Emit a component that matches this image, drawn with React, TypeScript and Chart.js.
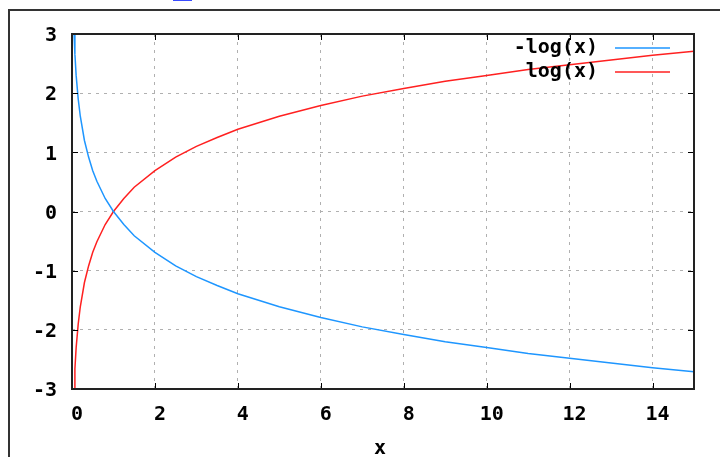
import React, { useEffect, useRef } from "react";
import { Chart, registerables } from "chart.js";

Chart.register(...registerables);

// Data
const xValues = [0.05, 0.07, 0.1, 0.15, 0.2, 0.3, 0.4, 0.5, 0.6, 0.8, 1, 1.25, 1.5, 2, 2.5, 3, 3.5, 4, 5, 6, 7, 8, 9, 10, 11, 12, 13, 14, 15];
const logValues = [-3.0, -2.66, -2.3, -1.9, -1.61, -1.2, -0.92, -0.69, -0.51, -0.22, 0, 0.22, 0.41, 0.69, 0.92, 1.1, 1.25, 1.39, 1.61, 1.79, 1.95, 2.08, 2.2, 2.3, 2.4, 2.48, 2.56, 2.64, 2.71];
const negLogValues = [3.0, 2.66, 2.3, 1.9, 1.61, 1.2, 0.92, 0.69, 0.51, 0.22, 0, -0.22, -0.41, -0.69, -0.92, -1.1, -1.25, -1.39, -1.61, -1.79, -1.95, -2.08, -2.2, -2.3, -2.4, -2.48, -2.56, -2.64, -2.71];
const seriesNames = ["-log(x)", "log(x)"];
const seriesColors = ["#1e96ff", "#ff2020"];
const xTicks = [0, 2, 4, 6, 8, 10, 12, 14];
const yTicks = [-3, -2, -1, 0, 1, 2, 3];
const xTitle = "x";

const FONT = '"DejaVu Sans Mono", monospace';

const framePlugin = {
  id: "gnuFrame",
  afterDraw(chart: any) {
    const { ctx } = chart;
    const { left, top, right, bottom } = chart.chartArea;
    const xs = chart.scales.x;
    const ys = chart.scales.y;
    ctx.save();
    // inward tick marks
    ctx.strokeStyle = "#000";
    ctx.lineWidth = 1;
    ctx.beginPath();
    for (const v of xTicks) {
      const px = Math.round(xs.getPixelForValue(v)) + 0.5;
      ctx.moveTo(px, bottom);
      ctx.lineTo(px, bottom - 6);
      ctx.moveTo(px, top);
      ctx.lineTo(px, top + 6);
    }
    for (const v of yTicks) {
      const py = Math.round(ys.getPixelForValue(v)) + 0.5;
      ctx.moveTo(left, py);
      ctx.lineTo(left + 6, py);
      ctx.moveTo(right, py);
      ctx.lineTo(right - 6, py);
    }
    ctx.stroke();
    // plot border
    ctx.strokeStyle = "#222";
    ctx.lineWidth = 2;
    ctx.strokeRect(left, top, right - left, bottom - top);
    // legend
    ctx.font = `bold 20px ${FONT}`;
    ctx.textAlign = "right";
    ctx.textBaseline = "middle";
    const lx = right - 96;
    seriesNames.forEach((name, i) => {
      const ly = top + 14 + i * 24;
      ctx.fillStyle = "#000";
      ctx.fillText(name, lx, ly);
      ctx.strokeStyle = seriesColors[i];
      ctx.lineWidth = 1.5;
      ctx.beginPath();
      ctx.moveTo(right - 79, ly);
      ctx.lineTo(right - 24, ly);
      ctx.stroke();
    });
    // x title
    ctx.textAlign = "center";
    ctx.fillStyle = "#000";
    ctx.fillText(xTitle, 380, 449);
    // outer frame
    ctx.strokeStyle = "#333";
    ctx.lineWidth = 2;
    ctx.beginPath();
    ctx.moveTo(9, 457);
    ctx.lineTo(9, 10);
    ctx.lineTo(720, 10);
    ctx.stroke();
    ctx.fillStyle = "#3a4cff";
    ctx.fillRect(173, 0, 19, 1);
    ctx.restore();
  },
};

export default function App() {
  const ref = useRef<HTMLCanvasElement>(null);
  useEffect(() => {
    if (!ref.current) return;
    const chart = new Chart(ref.current, {
      type: "line",
      data: {
        datasets: [
          {
            label: seriesNames[0],
            data: xValues.map((x, i) => ({ x, y: negLogValues[i] })),
            borderColor: seriesColors[0],
            borderWidth: 1.5,
            pointRadius: 0,
            tension: 0,
            fill: false,
          },
          {
            label: seriesNames[1],
            data: xValues.map((x, i) => ({ x, y: logValues[i] })),
            borderColor: seriesColors[1],
            borderWidth: 1.5,
            pointRadius: 0,
            tension: 0,
            fill: false,
          },
        ],
      },
      options: {
        responsive: false,
        animation: false,
        layout: { padding: { left: 0, top: 34, right: 26, bottom: 28 } },
        plugins: { legend: { display: false }, tooltip: { enabled: false } },
        scales: {
          x: {
            type: "linear",
            min: 0,
            max: 15,
            afterFit: (s: any) => {
              s.height = 40;
            },
            ticks: {
              stepSize: 2,
              includeBounds: false,
              autoSkip: false,
              maxRotation: 0,
              padding: 14,
              labelOffset: 5,
              color: "#000",
              font: { family: FONT, size: 20, weight: "bold" },
            },
            grid: { color: "#b0b0b0", lineWidth: 1, drawTicks: false },
            border: { display: false, dash: [3, 5] },
          },
          y: {
            type: "linear",
            min: -3,
            max: 3,
            afterFit: (s: any) => {
              s.width = 72;
            },
            ticks: {
              stepSize: 1,
              padding: 15,
              labelOffset: 2,
              color: "#000",
              font: { family: FONT, size: 20, weight: "bold" },
            },
            grid: { color: "#b0b0b0", lineWidth: 1, drawTicks: false },
            border: { display: false, dash: [3, 5] },
          },
        },
      },
      plugins: [framePlugin],
    } as any);
    return () => chart.destroy();
  }, []);
  return (
    <div style={{ position: "absolute", left: 0, top: 0, width: 720, height: 457, background: "#fff" }}>
      <canvas ref={ref} width={720} height={457} style={{ display: "block" }} />
    </div>
  );
}
